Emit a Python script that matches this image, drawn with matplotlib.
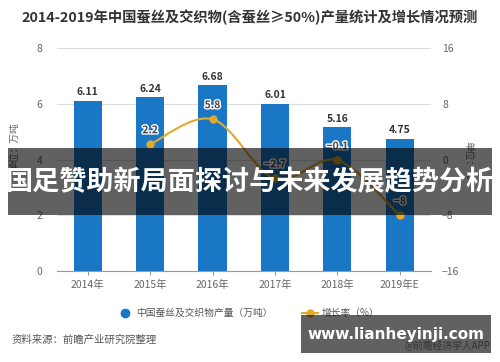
import numpy as np
import matplotlib
matplotlib.use("Agg")
from matplotlib import pyplot as plt
from matplotlib.path import Path
from matplotlib.patches import PathPatch, Rectangle
import matplotlib.patheffects as pe

plt.rcParams['font.family'] = ['Noto Sans CJK SC', 'DejaVu Sans']

years = ["2014年", "2015年", "2016年", "2017年", "2018年", "2019年E"]
output = [6.11, 6.24, 6.68, 6.01, 5.16, 4.75]
growth_years = [1, 2, 3, 4, 5]
growth = [2.2, 5.8, -2.7, -0.1, -8]

title = "2014-2019年中国蚕丝及交织物(含蚕丝≥50%)产量统计及增长情况预测"
banner = "国足赞助新局面探讨与未来发展趋势分析"
site = "www.lianheyinji.com"

bar_color = "#1a77c5"
line_color = "#e3a92a"
grey = "#666666"

fig = plt.figure(figsize=(5, 3.62), dpi=100)
ax = fig.add_axes([0.113, 0.251, 0.749, 0.616])
ax2 = ax.twinx()

x = np.arange(len(years))
ax.bar(x, output, width=0.45, color=bar_color, zorder=2)
for i, v in enumerate(output):
    ax.text(i, v + 0.12, "%.2f" % v, ha="center", va="bottom", fontsize=7.5,
            fontweight="bold", color="#333333")

ax.set_xlim(-0.5, 5.5)
ax.set_ylim(0, 8)
ax.set_yticks([0, 2, 4, 6, 8])
ax.set_xticks(x)
ax.set_xticklabels(years)
ax.grid(axis="y", color="#dddddd", linewidth=0.8, zorder=0)
ax.set_axisbelow(True)
for s in ["top", "right", "left"]:
    ax.spines[s].set_visible(False)
ax.spines["bottom"].set_color("#999999")
ax.tick_params(axis="y", length=0, labelsize=7.5, labelcolor=grey, pad=10)
ax.tick_params(axis="x", length=3, color="#999999", labelsize=7.5, labelcolor=grey)
ax.set_ylabel("单位：万吨", fontsize=7, color=grey, labelpad=4)
ax.yaxis.set_label_coords(-0.1, 0.56)

# smooth growth line via cubic bezier through the points
ax2.set_ylim(-16, 16)
ax2.set_yticks([-16, -8, 0, 8, 16])
for s in ["top", "right", "left", "bottom"]:
    ax2.spines[s].set_visible(False)
ax2.tick_params(axis="y", length=0, labelsize=7.5, labelcolor=grey, pad=8)
ax2.set_ylabel("单位：%", fontsize=7, color=grey, rotation=270, labelpad=10)

pts = np.column_stack([growth_years, growth]).astype(float)
verts = [tuple(pts[0])]
codes = [Path.MOVETO]
for i in range(len(pts) - 1):
    p0 = pts[i - 1] if i > 0 else pts[i]
    p1 = pts[i]
    p2 = pts[i + 1]
    p3 = pts[i + 2] if i + 2 < len(pts) else pts[i + 1]
    c1 = p1 + (p2 - p0) / 6.0
    c2 = p2 - (p3 - p1) / 6.0
    verts += [tuple(c1), tuple(c2), tuple(p2)]
    codes += [Path.CURVE4] * 3
ax2.add_patch(PathPatch(Path(verts, codes), fill=False, edgecolor=line_color,
                        linewidth=1.5, zorder=3))
ax2.plot(growth_years, growth, "o", color=line_color, markersize=5, zorder=4)
for gx, gv in zip(growth_years, growth):
    t = ax2.text(gx, gv + 1.3, ("%g" % gv).replace("-", "−"), ha="center", va="bottom",
                 fontsize=7.5, fontweight="bold", color="#444444", zorder=5)
    t.set_path_effects([pe.withStroke(linewidth=2, foreground="white")])

fig.text(0.5, 0.953, title, ha="center", va="center", fontsize=10.3,
         fontweight="bold", color="#333333")

# legend
ly = 1 - 313 / 362
fig.lines.append(plt.Line2D([125 / 500], [ly], marker="o", markersize=6,
                            color=bar_color, transform=fig.transFigure))
fig.text(136 / 500, ly, "中国蚕丝及交织物产量（万吨）", ha="left", va="center",
         fontsize=7, color="#555555")
fig.lines.append(plt.Line2D([302 / 500, 318 / 500], [ly] * 2, color=line_color,
                            linewidth=1.5, transform=fig.transFigure))
fig.lines.append(plt.Line2D([310 / 500], [ly], marker="o", markersize=5,
                            color=line_color, transform=fig.transFigure))
fig.text(322 / 500, ly, "增长率（%）", ha="left", va="center",
         fontsize=7, color="#555555")

fig.text(12 / 500, 1 - 340 / 362, "资料来源：前瞻产业研究院整理", ha="left", va="center",
         fontsize=7.5, color="#555555")
fig.text(490 / 500, 1 - 346 / 362, "@前瞻经济学人APP", ha="right", va="center",
         fontsize=7, color="#888888")

# overlay banner
fig.patches.append(Rectangle((8 / 500, 1 - 215 / 362), 484 / 500, 67 / 362,
                             transform=fig.transFigure, facecolor="black", alpha=0.62,
                             zorder=10))
fig.text(250 / 500, 1 - 182 / 362, banner, ha="center", va="center", fontsize=19.5,
         fontweight="bold", color="white", zorder=11)
fig.patches.append(Rectangle((301 / 500, 1 - 353 / 362), 190 / 500, 38 / 362,
                             transform=fig.transFigure, facecolor="black", alpha=0.62,
                             zorder=10))
fig.text(396 / 500, 1 - 334 / 362, site, ha="center", va="center", fontsize=11,
         fontweight="bold", color="white", zorder=11, family="DejaVu Sans")

fig.savefig("out.png", dpi=100)
